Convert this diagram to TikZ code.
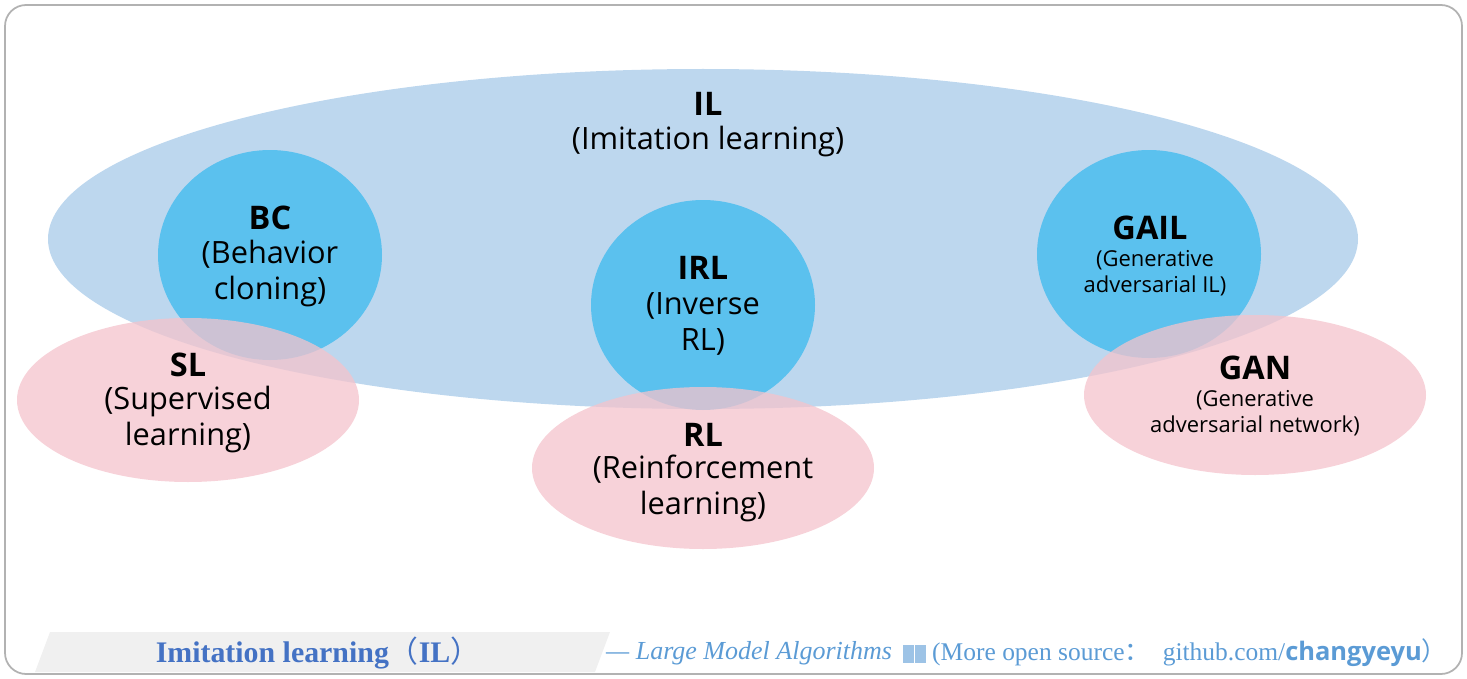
\documentclass[tikz,border=0pt]{standalone}
\usepackage{fontspec}
\setmainfont{Open Sans}
\newfontfamily\capfont{Liberation Serif}
\newfontfamily\cjk{Noto Sans CJK SC}
\begin{document}
\begin{tikzpicture}[x=0.02cm,y=-0.02cm,
  circ/.style={fill=cb},
  pink/.style={fill=pk,fill opacity=0.75},
  big/.style={font=\fontsize{17.5}{20.5}\selectfont,align=center},
  small/.style={font=\fontsize{12.5}{14.5}\selectfont,align=center},
  ttl/.style={font=\fontsize{18.5}{22}\selectfont\bfseries}]
\definecolor{il}{HTML}{BDD7EE}
\definecolor{cb}{HTML}{5BC1EE}
\definecolor{pk}{HTML}{F4C3CC}
\definecolor{capb}{HTML}{4472C4}
\definecolor{capl}{HTML}{5B9BD5}
\useasboundingbox (0,0) rectangle (1467,679);
\draw[rounded corners=12pt,draw=gray!60,line width=1pt] (5,5) rectangle (1462,674);
\fill[il] (703,239) ellipse [x radius=655,y radius=170];
\fill[circ] (270,255) ellipse [x radius=112,y radius=105];
\fill[circ] (703,305) ellipse [x radius=112,y radius=105];
\fill[circ] (1149,254) ellipse [x radius=112,y radius=104];
\fill[pink] (188,400) ellipse [x radius=171,y radius=82];
\fill[pink] (703,468) ellipse [x radius=171,y radius=81];
\fill[pink] (1255,395) ellipse [x radius=171,y radius=80];
\node[ttl] (il) at (708,104) {IL};
\node[big] (ilt) at (708,142) {(Imitation learning)};
\node[ttl] (bc) at (270,218) {BC};
\node[big] (bct) at (270,274) {(Behavior\\cloning)};
\node[ttl] (irl) at (703,268) {IRL};
\node[big] (irlt) at (703,324) {(Inverse\\RL)};
\node[ttl] (gail) at (1150,228) {GAIL};
\node[small] (gailt) at (1155,273) {(Generative\\adversarial IL)};
\node[ttl] (sl) at (188,365) {SL};
\node[big] (slt) at (188,420) {(Supervised\\learning)};
\node[ttl] (rl) at (703,435) {RL};
\node[big] (rlt) at (703,488) {(Reinforcement\\learning)};
\node[ttl] (gan) at (1255,368) {GAN};
\node[small] (gant) at (1255,413) {(Generative\\adversarial network)};
\fill[gray!12] (50,632) -- (610,632) -- (595,672) -- (35,672) -- cycle;
\node[font=\capfont\fontsize{17}{19}\selectfont\bfseries,text=capb] (cap) at (318,653) {Imitation learning{\cjk\mdseries （}IL{\cjk\mdseries ）}};
\node[font=\capfont\fontsize{14.8}{17}\selectfont\itshape,text=capl,anchor=west] (src) at (600,653) {— Large Model Algorithms};
\node[font=\capfont\fontsize{14.5}{17}\selectfont,text=capl,anchor=west] (src2) at (926,653)
 {(More open source{\cjk ：}\ \ github.com/\textbf{\fontspec{Open Sans}changyeyu}{\cjk ）}};
\fill[capl!60] (903,645) rectangle (926,663);
\draw[white,line width=0.8pt] (914.5,645) -- (914.5,663);
\end{tikzpicture}
\end{document}
